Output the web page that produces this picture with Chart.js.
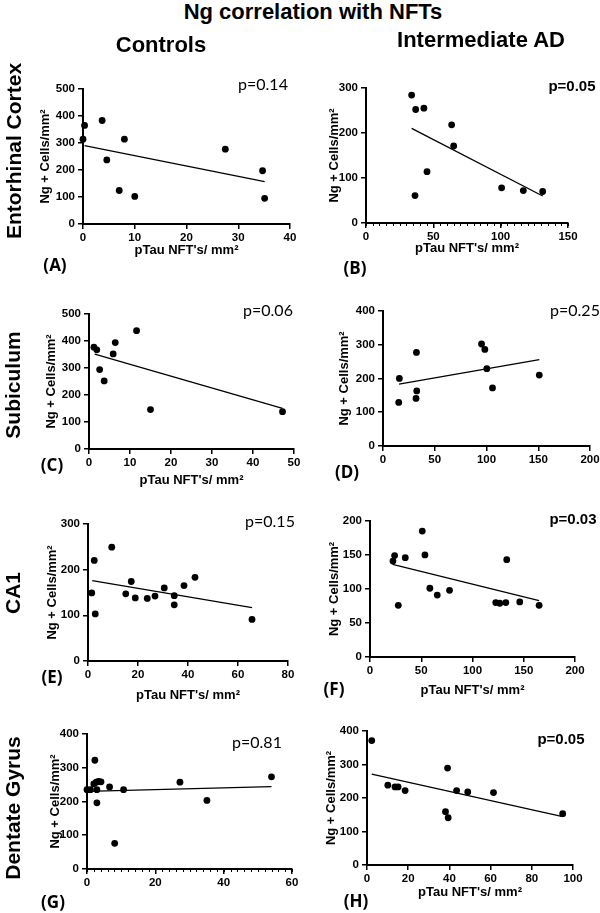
<!DOCTYPE html>
<html>
<head>
<meta charset="utf-8">
<script src="https://cdn.jsdelivr.net/npm/chart.js@4.4.0/dist/chart.umd.min.js"></script>
<style>
body{margin:0;background:#fff;}
#fig{position:relative;width:600px;height:913px;overflow:hidden;font-family:"Liberation Sans",Arial,sans-serif;color:#000;}
#fig canvas{position:absolute;}
.lbl{position:absolute;transform:translate(-50%,-50%);white-space:nowrap;line-height:1;}
.rot{transform:translate(-50%,-50%) rotate(-90deg);}
</style>
</head>
<body>
<div id="fig"></div>
<script>
// (A) entorhinal cortex - controls
var ecCtrlX = [0.3, 0, 3.7, 4.6, 7.0, 8.0, 10.0, 27.5, 34.7, 35.1];
var ecCtrlY = [365, 314, 383, 237, 124, 314, 102, 277, 197, 95];
var ecCtrlFitX = [0.3, 35.1];
var ecCtrlFitY = [290, 157];
var ecCtrlTicksX = [0, 10, 20, 30, 40];
var ecCtrlTicksY = [0, 100, 200, 300, 400, 500];

// (B) entorhinal cortex - intermediate AD
var ecAdX = [33.9, 36.9, 43.0, 36.4, 45.3, 63.6, 65.1, 100.7, 116.8, 131.2];
var ecAdY = [284, 252, 255, 61, 114, 218, 171, 78, 72, 70];
var ecAdFitX = [33.9, 131.2];
var ecAdFitY = [210, 60];
var ecAdTicksX = [0, 50, 100, 150];
var ecAdTicksY = [0, 100, 200, 300];

// (C) subiculum - controls
var subCtrlX = [1.2, 1.9, 2.6, 3.7, 5.9, 6.4, 11.6, 15.0, 47.2];
var subCtrlY = [377, 367, 294, 252, 352, 394, 438, 146, 138];
var subCtrlFitX = [1.4, 47.2];
var subCtrlFitY = [351, 150];
var subCtrlTicksX = [0, 10, 20, 30, 40, 50];
var subCtrlTicksY = [0, 100, 200, 300, 400, 500];

// (D) subiculum - intermediate AD
var subAdX = [15.2, 15.8, 31.9, 32.6, 32.3, 95.2, 98.4, 100.3, 105.8, 151];
var subAdY = [129, 200, 141, 163, 277, 302, 286, 229, 172, 210];
var subAdFitX = [15.5, 151];
var subAdFitY = [183, 256];
var subAdTicksX = [0, 50, 100, 150, 200];
var subAdTicksY = [0, 100, 200, 300, 400];

// (E) CA1 - controls
var ca1CtrlX = [1.5, 2.5, 2.9, 9.5, 15.1, 17.3, 18.9, 23.7, 26.8, 30.5, 34.5, 34.5, 38.4, 42.8, 65.6];
var ca1CtrlY = [149, 220, 103, 249, 147, 174, 138, 137, 142, 160, 143, 123, 165, 183, 91];
var ca1CtrlFitX = [1.7, 65.6];
var ca1CtrlFitY = [176, 117];
var ca1CtrlTicksX = [0, 20, 40, 60, 80];
var ca1CtrlTicksY = [0, 100, 200, 300];

// (F) CA1 - intermediate AD
var ca1AdX = [22.4, 24, 34.4, 27.6, 51, 53.6, 58.4, 65.6, 77.6, 122.7, 126.6, 132.5, 133.4, 146.1, 165];
var ca1AdY = [141, 149, 146, 76, 185, 150, 101, 91, 98, 80, 79, 80, 143, 81, 76];
var ca1AdFitX = [22, 165];
var ca1AdFitY = [136, 83];
var ca1AdTicksX = [0, 50, 100, 150, 200];
var ca1AdTicksY = [0, 50, 100, 150, 200];

// (G) dentate gyrus - controls
var dgCtrlX = [0, 1.0, 2.9, 2.3, 2.0, 2.7, 3.4, 4.1, 2.9, 6.6, 8.1, 10.7, 27.2, 35.1, 54];
var dgCtrlY = [235, 235, 235, 322, 252, 257, 259, 258, 196, 243, 76, 235, 257, 203, 273];
var dgCtrlFitX = [0, 54];
var dgCtrlFitY = [230, 244];
var dgCtrlTicksX = [0, 20, 40, 60];
var dgCtrlTicksY = [0, 100, 200, 300, 400];

// (H) dentate gyrus - intermediate AD
var dgAdX = [2.3, 10.1, 13.6, 15.1, 18.5, 38.1, 39.1, 39.4, 43.5, 48.9, 61.4, 95];
var dgAdY = [371, 238, 233, 233, 222, 159, 289, 141, 222, 218, 216, 153];
var dgAdFitX = [2.3, 95];
var dgAdFitY = [271, 144];
var dgAdTicksX = [0, 20, 40, 60, 80, 100];
var dgAdTicksY = [0, 100, 200, 300, 400];

var pValues = ["p=0.14", "p=0.05", "p=0.06", "p=0.25", "p=0.15", "p=0.03", "p=0.81", "p=0.05"];
var pBold = [false, true, false, false, false, true, false, true];
var panelLetters = ["(A)", "(B)", "(C)", "(D)", "(E)", "(F)", "(G)", "(H)"];
var regions = ["Entorhinal Cortex", "Subiculum", "CA1", "Dentate Gyrus"];
var groups = ["Controls", "Intermediate AD"];

var yLabel = "Ng + Cells/mm\u00b2";
var xLabel = "pTau NFT's/ mm\u00b2";

// layout: box = chart area [left, top, right, bottom] in page px
var panels = [
  {x: ecCtrlX, y: ecCtrlY, fx: ecCtrlFitX, fy: ecCtrlFitY, tx: ecCtrlTicksX, ty: ecCtrlTicksY, box: [83, 87, 290, 224], yt: 37, xt: 26, p: [263, 83], l: [55, 264]},
  {x: ecAdX, y: ecAdY, fx: ecAdFitX, fy: ecAdFitY, tx: ecAdTicksX, ty: ecAdTicksY, box: [366, 86, 568, 223], yt: 31, xt: 25, minor: 5, p: [572, 85], l: [355, 267]},
  {x: subCtrlX, y: subCtrlY, fx: subCtrlFitX, fy: subCtrlFitY, tx: subCtrlTicksX, ty: subCtrlTicksY, box: [89, 312, 294, 449], yt: 37, xt: 31, p: [268, 309], l: [52, 464]},
  {x: subAdX, y: subAdY, fx: subAdFitX, fy: subAdFitY, tx: subAdTicksX, ty: subAdTicksY, box: [383, 309, 590, 446], yt: 38, xt: 0, p: [575, 309], l: [347, 471]},
  {x: ca1CtrlX, y: ca1CtrlY, fx: ca1CtrlFitX, fy: ca1CtrlFitY, tx: ca1CtrlTicksX, ty: ca1CtrlTicksY, box: [88, 522, 288, 661], yt: 35, xt: 34, p: [270, 520], l: [52, 676]},
  {x: ca1AdX, y: ca1AdY, fx: ca1AdFitX, fy: ca1AdFitY, tx: ca1AdTicksX, ty: ca1AdTicksY, box: [370, 519, 575, 657], yt: 35, xt: 33, p: [573, 518], l: [334, 688]},
  {x: dgCtrlX, y: dgCtrlY, fx: dgCtrlFitX, fy: dgCtrlFitY, tx: dgCtrlTicksX, ty: dgCtrlTicksY, box: [87, 732, 292, 869], yt: 31, xt: 0, minor: 2, p: [257, 741], l: [53, 901]},
  {x: dgAdX, y: dgAdY, fx: dgAdFitX, fy: dgAdFitY, tx: dgAdTicksX, ty: dgAdTicksY, box: [367, 729, 573, 865], yt: 35, xt: 27, p: [561, 738], l: [356, 900]}
];

var fig = document.getElementById("fig");
var tickFont = {family: "'Liberation Sans'", weight: "bold", size: 11.5};
var axisFont = {family: "'Liberation Sans'", weight: "bold", size: 13};

// small unlabeled ticks between the major ones
var minorTicks = {
  id: "minorTicks",
  afterDraw: function (chart, args, opts) {
    if (!opts.step) return;
    var sx = chart.scales.x, ctx = chart.ctx;
    ctx.save();
    ctx.strokeStyle = "#000";
    ctx.lineWidth = 1;
    for (var v = sx.min; v <= sx.max + 0.001; v += opts.step) {
      var px = Math.round(sx.getPixelForValue(v)) + 0.5;
      ctx.beginPath();
      ctx.moveTo(px, sx.top);
      ctx.lineTo(px, sx.top + 3);
      ctx.stroke();
    }
    ctx.restore();
  }
};

function addText(txt, x, y, css, cls) {
  var d = document.createElement("div");
  d.className = "lbl" + (cls ? " " + cls : "");
  d.textContent = txt;
  d.style.left = x + "px";
  d.style.top = y + "px";
  d.style.cssText += css;
  fig.appendChild(d);
}

function makePanel(p, i) {
  var L = p.box[0], T = p.box[1], R = p.box[2], B = p.box[3];
  var W = p.yt + 8;
  var H = p.xt ? p.xt + 8 : 26;
  var pt = 8, pr = 12;
  var cv = document.createElement("canvas");
  cv.width = W + (R - L) + pr;
  cv.height = pt + (B - T) + H;
  cv.style.left = (L - W) + "px";
  cv.style.top = (T - pt) + "px";
  fig.appendChild(cv);

  var pts = p.x.map(function (v, k) { return {x: v, y: p.y[k]}; });
  var fit = p.fx.map(function (v, k) { return {x: v, y: p.fy[k]}; });

  new Chart(cv, {
    type: "scatter",
    data: {
      datasets: [
        {data: pts, pointRadius: 3.4, pointBackgroundColor: "#000", pointBorderWidth: 0, clip: false, order: 0},
        {data: fit, showLine: true, borderColor: "#000", borderWidth: 1.3, pointRadius: 0, clip: false, order: 1}
      ]
    },
    options: {
      responsive: false,
      animation: false,
      events: [],
      layout: {padding: {top: pt, right: pr, left: 0, bottom: 0}},
      plugins: {legend: {display: false}, tooltip: {enabled: false}, minorTicks: {step: p.minor || 0}},
      scales: {
        x: {
          type: "linear",
          min: p.tx[0], max: p.tx[p.tx.length - 1],
          ticks: {stepSize: p.tx[1] - p.tx[0], font: tickFont, color: "#000", padding: 2, maxRotation: 0, autoSkip: false},
          grid: {drawOnChartArea: false, tickLength: 5, color: "#000", lineWidth: 1.5},
          border: {color: "#000", width: 2},
          title: {display: !!p.xt, text: xLabel, font: axisFont, color: "#000", padding: 0},
          afterFit: function (s) { s.height = H; }
        },
        y: {
          type: "linear",
          min: p.ty[0], max: p.ty[p.ty.length - 1],
          ticks: {stepSize: p.ty[1] - p.ty[0], font: tickFont, color: "#000", padding: 3},
          grid: {drawOnChartArea: false, tickLength: 5, color: "#000", lineWidth: 1.5},
          border: {color: "#000", width: 2},
          title: {display: true, text: yLabel, font: axisFont, color: "#000", padding: 0},
          afterFit: function (s) { s.width = W; }
        }
      }
    },
    plugins: [minorTicks]
  });

  var pcss = pBold[i] ? "font:bold 15px 'Liberation Sans';" : "font:16px Lato;";
  addText(pValues[i], p.p[0], p.p[1], pcss);
  addText(panelLetters[i], p.l[0], p.l[1], "font:bold 17px 'Open Sans';");
}

panels.forEach(makePanel);

addText("Ng correlation with NFTs", 313, 12, "font:bold 22px 'Liberation Sans';");
addText(groups[0], 161, 45, "font:bold 22px 'Liberation Sans';");
addText(groups[1], 481, 40, "font:bold 22px 'Liberation Sans';");
var regionY = [151, 385, 593, 808];
var regionX = [14, 13, 13, 13];
for (var r = 0; r < regions.length; r++) {
  addText(regions[r], regionX[r], regionY[r], "font:bold 21px 'Liberation Sans';", "rot");
}
</script>
</body>
</html>
